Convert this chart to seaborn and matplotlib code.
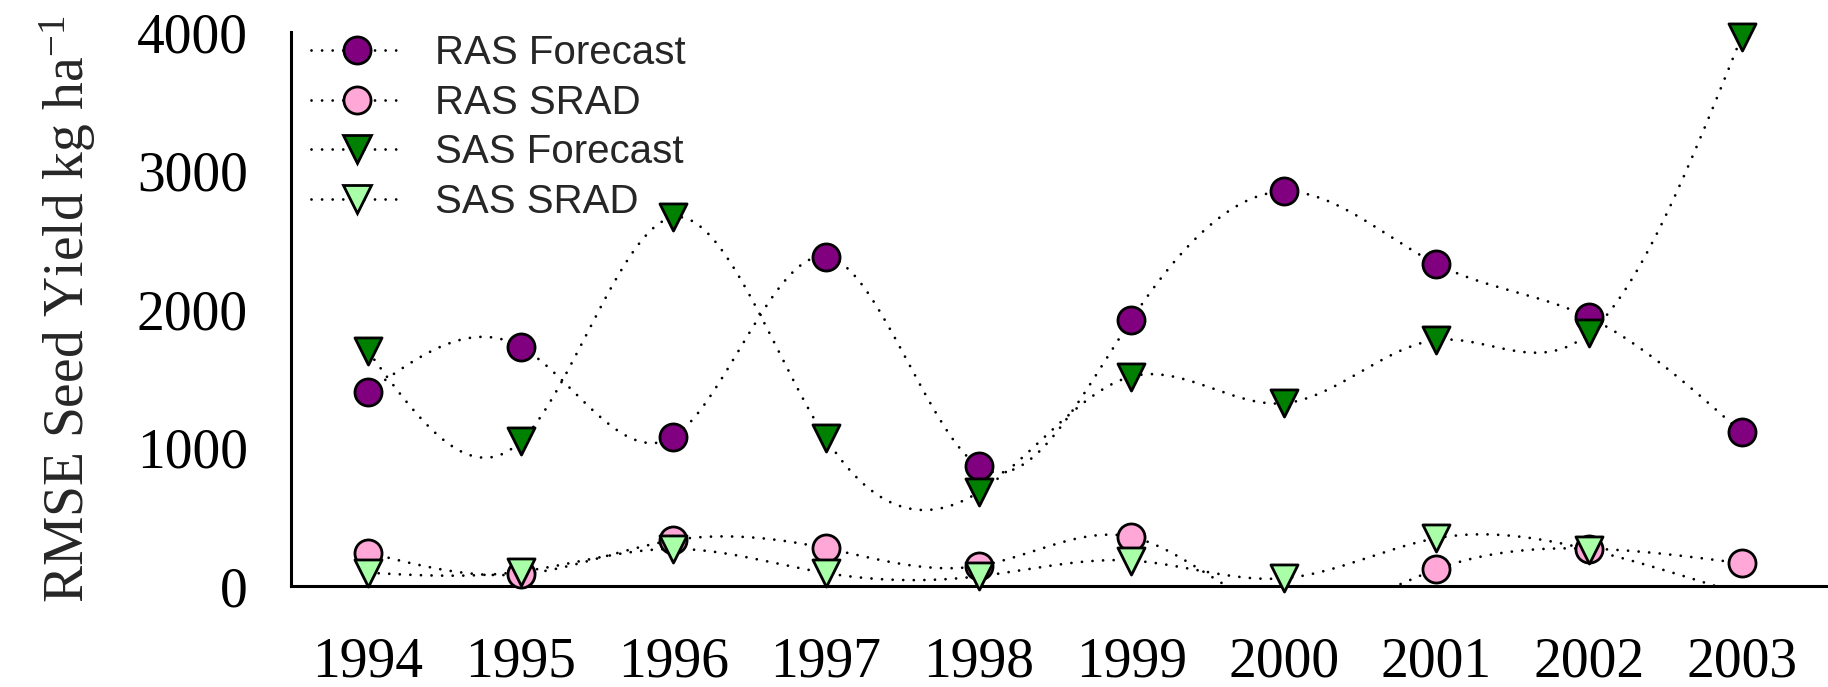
import matplotlib
matplotlib.use("Agg")
import matplotlib.pyplot as plt
import seaborn as sns
import numpy as np
import pandas as pd
from matplotlib.lines import Line2D

# ---- data ----
YEARS = [1994, 1995, 1996, 1997, 1998, 1999, 2000, 2001, 2002, 2003]
RAS_FORECAST = [1400, 1728, 1078, 2380, 866, 1922, 2850, 2327, 1940, 1110]
RAS_SRAD = [241, 85, 331, 273, 145, 355, -180, 121, 270, 164]
SAS_FORECAST = [1696, 1045, 2664, 1067, 677, 1513, 1320, 1777, 1826, 3969]
SAS_SRAD = [96, 104, 268, 94, 70, 184, 56, 345, 263, -60]

SERIES = ["RAS Forecast", "RAS SRAD", "SAS Forecast", "SAS SRAD"]
VALUES = [RAS_FORECAST, RAS_SRAD, SAS_FORECAST, SAS_SRAD]
COLORS = ["#800080", "#FFA8D8", "#008000", "#A8FFA8"]
MARKERS = ["o", "o", "v", "v"]

Y_TICKS = [0, 1000, 2000, 3000, 4000]

SERIF = "Liberation Serif"
SANS = "Liberation Sans"

sns.set_style("white")
plt.rcParams.update({
    "font.family": [SERIF, "DejaVu Serif"],
    "mathtext.fontset": "custom",
    "mathtext.rm": SERIF,
    "mathtext.it": SERIF,
    "mathtext.default": "regular",
})


def natural_spline(x, y, n=400):
    # smooth curve through the points (line style of the original)
    x = np.asarray(x, float)
    y = np.asarray(y, float)
    k = len(x)
    h = np.diff(x)
    A = np.zeros((k, k))
    b = np.zeros(k)
    A[0, 0] = A[-1, -1] = 1
    for i in range(1, k - 1):
        A[i, i - 1] = h[i - 1]
        A[i, i] = 2 * (h[i - 1] + h[i])
        A[i, i + 1] = h[i]
        b[i] = 6 * ((y[i + 1] - y[i]) / h[i] - (y[i] - y[i - 1]) / h[i - 1])
    M = np.linalg.solve(A, b)
    xs = np.linspace(x[0], x[-1], n)
    idx = np.clip(np.searchsorted(x, xs) - 1, 0, k - 2)
    x0, x1 = x[idx], x[idx + 1]
    hi = h[idx]
    ys = (M[idx] * (x1 - xs) ** 3 / (6 * hi) + M[idx + 1] * (xs - x0) ** 3 / (6 * hi)
          + (y[idx] / hi - M[idx] * hi / 6) * (x1 - xs)
          + (y[idx + 1] / hi - M[idx + 1] * hi / 6) * (xs - x0))
    return xs, ys


fig = plt.figure(figsize=(18.28, 6.87), dpi=100)
ax = fig.add_axes([0.1592, 0.147, 0.8408, 0.806])

DOTS = (0, (0.01, 3.8))
MK_SIZE = 19.5

for name, vals, col, mk in zip(SERIES, VALUES, COLORS, MARKERS):
    xs, ys = natural_spline(YEARS, vals)
    curve = pd.DataFrame({"year": xs, "value": ys})
    sns.lineplot(data=curve, x="year", y="value", ax=ax, color="black",
                 linewidth=2.0, linestyle=DOTS, dash_capstyle="round",
                 sort=False, estimator=None, zorder=2)

for name, vals, col, mk in zip(SERIES, VALUES, COLORS, MARKERS):
    pts = pd.DataFrame({"year": YEARS, "value": vals})
    pts = pts[pts["value"] >= 0]
    sns.scatterplot(data=pts, x="year", y="value", ax=ax, marker=mk,
                    s=MK_SIZE ** 2, color=col, edgecolor="black",
                    linewidth=2.0, clip_on=False, zorder=3)

ax.set_xlim(1993.495, 2003.566)
ax.set_ylim(0, 4000)
ax.set_xticks(YEARS)
ax.set_xticklabels([str(y) for y in YEARS])
ax.set_yticks(Y_TICKS)
ax.set_yticklabels([str(v) for v in Y_TICKS])
ax.tick_params(axis="both", direction="out", length=11, width=2.2,
               labelsize=40, color="black", labelcolor="black")
ax.tick_params(axis="x", pad=25)
ax.tick_params(axis="y", pad=20)
ax.set_xlabel("")
ax.set_ylabel("RMSE Seed Yield kg ha$^{-1}$", fontsize=40, labelpad=28)
ax.grid(False)

for side in ["top", "right"]:
    ax.spines[side].set_visible(False)
for side in ["left", "bottom"]:
    ax.spines[side].set_color("black")
    ax.spines[side].set_linewidth(2.2)

handles = [Line2D([0], [0], color="black", linewidth=2.0, linestyle=DOTS,
                  dash_capstyle="round", marker=mk, markersize=MK_SIZE,
                  markerfacecolor=col, markeredgecolor="black",
                  markeredgewidth=2.0)
           for col, mk in zip(COLORS, MARKERS)]
leg = ax.legend(handles, SERIES, loc="upper left",
                bbox_to_anchor=(311 / 1828, 1 - 34 / 687),
                bbox_transform=fig.transFigure, frameon=False,
                prop={"family": SANS, "size": 29}, numpoints=1,
                handlelength=2.28, handletextpad=0.8, labelspacing=0.29,
                borderpad=0, borderaxespad=0)

fig.savefig("out.png", dpi=100)
